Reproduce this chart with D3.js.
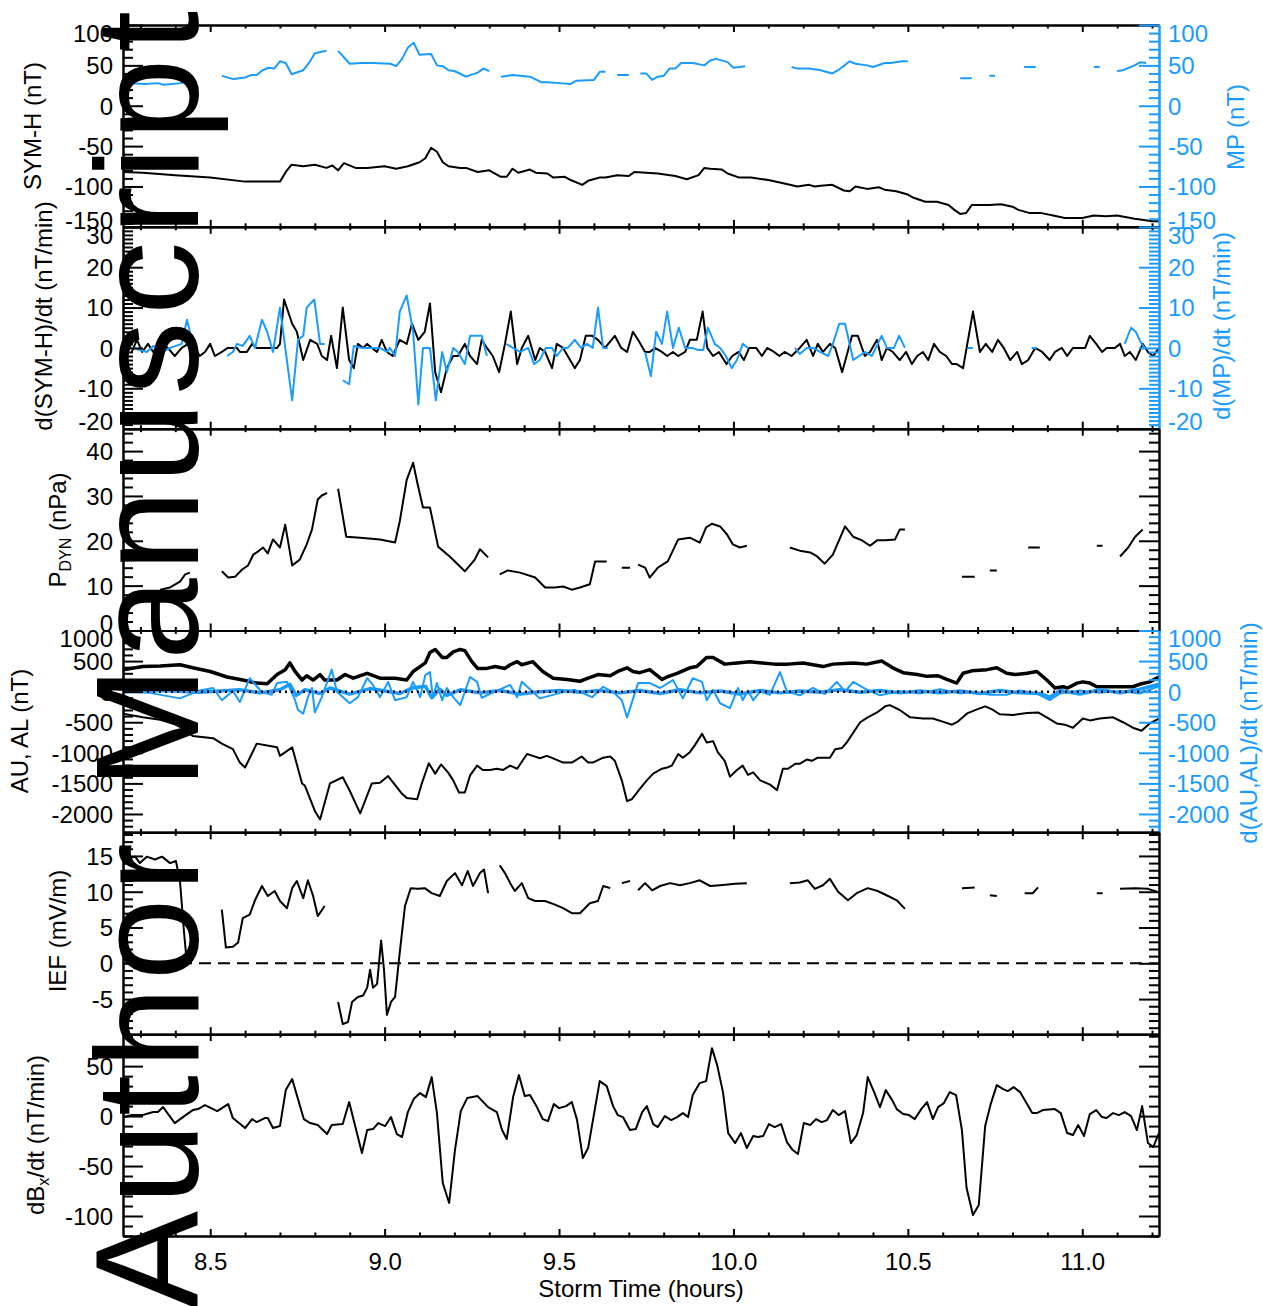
<!DOCTYPE html>
<html>
<head>
<meta charset="utf-8">
<script src="https://cdn.jsdelivr.net/npm/d3@7"></script>
<style>
body { margin: 0; background: #fff; }
svg { display: block; }
text { font-family: "Liberation Sans", Arial, Helvetica, sans-serif; }
</style>
</head>
<body>
<svg id="chart" width="1263" height="1306"></svg>
<script>
// all series: [storm time in minutes, value], null = data gap
var symH = [[495,-82],[498.4,-83],[504,-86],[510,-89],[516,-94],[522,-94],[523,-82],[524,-73],[526,-75],[528,-73],[530,-77],[531,-74],[532,-80],[533,-71],[535,-77],[537,-77],[540,-75],[542,-78],[544,-75],[546,-70],[547,-65],[548,-52],[549,-57],[550,-70],[551,-75],[553,-77],[554,-77],[556,-82],[558,-80],[560,-88],[561,-88],[562,-78],[563,-83],[565,-79],[566,-83],[568,-84],[569,-89],[571,-88],[572,-92],[574,-98],[575,-93],[577,-89],[578,-89],[580,-86],[582,-87],[583,-82],[585,-83],[587,-84],[590,-87],[592,-91],[594,-86],[595,-77],[596,-78],[598,-79],[599,-84],[601,-89],[603,-89],[606,-92],[608,-95],[611,-100],[613,-98],[614,-100],[615,-99],[617,-98],[619,-105],[620,-106],[621,-100],[623,-103],[625,-101],[626,-104],[628,-106],[630,-110],[631,-114],[633,-119],[635,-119],[637,-123],[638,-129],[639,-134],[640,-133],[641,-123],[643,-123],[644,-123],[646,-122],[648,-125],[649,-129],[651,-133],[653,-133],[655,-136],[657,-139],[660,-139],[662,-136],[664,-137],[666,-136],[669,-140],[670,-141],[672,-143],[673.2,-143]];

var mp = [[496,28],[499,27],[501,28],[502,26],[505,28],[506,34],[507,37],null,
  [512,37],[514,33],[516,35],[517,38],[518,38],[519,44],[520,47],[521,46],[522,55],[523,53],[524,39],[526,44],[527,53],[528,65],[530,68],null,
  [532,68],[534,52],[536,53],[538,53],[541,52],[542,49],[543,58],[544,72],[545,78],[546,63],[548,64],[549,50],[550,49],[551,44],[552,43],[554,36],[556,41],[557,46],[558,43],null,
  [560,36],[562,38],[565,36],[567,29],[568,29],[570,28],[572,27],[573,31],[576,32],[577,42],[578,42],null,
  [580,38],[582,38],null,
  [584,40],[585,40],[586,32],[587,36],[588,37],[589,46],[590,46],[591,53],[593,53],[595,50],[596,56],[597,58],[599,54],[600,47],[602,49],null,
  [610,48],[611,46],[613,46],[615,44],[617,40],[618,44],[620,55],[621,52],[623,50],[624,48],[626,53],[627,53],[629,55],[630,55],null,
  [639,34],[641,34],null,[644,37],[645,37],null,[650,48],[652,48],null,[662,48],[663,48],null,
  [666,43],[667,44],[669,50],[670,54],[671,53]];

var dSymH = [[496.5,-1],[497.4,2],[498.3,-1],[499.3,1],[500.2,-1],[501.4,1],[502.7,0],[503.9,-2],[505.1,0],[506.2,1],[507.4,0],[508.2,-2],[509.1,-1],[510,1],[510.8,-2],[512,-1],[513,0],[514.6,0],[515.1,-1],[516.3,-1],[517.2,1],[518,0],[519.1,0],[520.3,0],[521.5,0],[522,1],[522.7,12],[524.1,6],[524.9,4],[526,-3],[527.2,2],[528.4,1],[529.2,-2],[530.1,-3],[530.8,3],[531.8,-5],[532.8,10],[533.9,-3],[534.7,-5],[535.4,1],[536.3,0],[537,1],[537.8,0],[538.7,-1],[539.5,2],[540.4,-1],[541.4,-2],
  [542.6,2],[543.8,1],[544.7,6],[545.8,2],[546.9,4],[547.8,11],[548.7,-6],[549.7,-11],[550.7,-5],[551.8,-2],[552.6,-2],[553.8,1],[554.7,-2],[555.9,-4],[556.7,2],[557.6,0],[558.6,-2],[559.7,-6],[560.7,1],[561.7,9],[562.8,-4],[563.6,0],[564.7,3],[565.9,-3],[566.7,0],[567.6,-1],[568.8,-5],[569.6,1],[570.7,0],[571.5,-2],[572.7,-5],[573.6,-3],[574.6,3],[575.7,3],[576.7,2],[577.9,0],[579.6,3],[580.7,0],[581.7,-1],[582.7,4],[583.6,2],[584.8,-1],[585.6,-1],[586.5,0],[587.7,-1],[588.6,-2],[589.6,-1],[590.5,-2],[591.7,-1],[592.5,2],[593.7,2],[594.7,9],[595.5,0],[596.5,-2],[597.5,-1],[598.8,-4],[599.8,-2],[600.9,-1],[601.8,-3],[602.7,0],[603.9,0],[604.9,-2],[605.8,0],[607,-1],[607.9,-2],[608.8,-1],[610,-2],
  [611.4,0],[612.6,2],[613.7,-2],[614.5,1],[615.4,-1],[616.6,1],[617.5,0],[618.7,-6],[620.4,3],[621.4,3],[622.6,-2],[623.5,-1],[624.7,2],[625.5,-3],[626.4,0],[627.4,-1],[628.6,-3],[629.7,-1],[630.7,-4],[631.6,-2],[632.6,-1],[633.5,-3],[634.5,1],[635.5,-1],[636.6,-2],[637.6,-4],[638.4,-4],[639.5,-5],[641.2,9],[642.4,-1],[643.4,1],[644.5,-1],[645.5,2],[646.5,0],[647.6,-3],[648.8,-1],[649.6,-4],[650.7,-3],[651.9,0],[653.1,-1],[654.4,-3],[655.3,-1],[656.5,0],[657.4,-2],[658.4,0],[660.5,0],[661.3,3],[662.4,1],[663.4,-1],[664.2,0],[665.6,0],[666.5,1],[667.3,-2],[668.2,-1],[669.2,-3],[670.4,1],[671.3,-1],[672.2,-2],[673.2,0]];

var dMp = [[496.7,0],[499.1,-1],[500.2,0.5],[501,0],[501.9,-1],[503.1,0],[505.1,1],[506,7],[507,1],null,
  [512.9,-2],[513.9,-1],[514.6,1],[515.6,0.5],[516.8,3],[517.7,0],[518.9,7],[519.8,4],[520.8,-1],[522,10],[524.1,-13],[525.1,2],[526,3],[526.6,10],[527.9,12],[528.9,1],[529.7,1],null,
  [532.8,-8],[533.9,-9],[534.7,0.5],[536.1,0],[537.8,0],[539.2,0],[540.4,-1],[540.9,0],[541.8,-2],[542.6,9],[543.8,13],[544.9,4],[545.8,-14],[546.6,0],[547.8,0],[548.8,-13],[549.9,-1],[550.7,-6],[551.8,0],[552.6,-1],[553.8,-4],[554.7,3],[555.5,3],[556.7,3],[557.6,-2],null,
  [560.9,1],[562.1,0],[563.3,-1],[564.7,0],[565.7,-4],[566.7,-3],[567.7,0],[568.8,0],[569.6,-2],[570.7,0],[571.5,0],[572.7,2],[573.8,0],[574.8,1],[575.8,0],[576.7,10],[577.6,0],[578.4,0],null,
  [584.8,-1],[585.8,-7],[586.7,4],[587.7,1],[588.6,9],[589.6,0],[590.6,5],[591.7,0],[592.9,0],[593.9,-0.5],[594.8,-0.5],[595.6,5],[596.8,1],[597.7,0],[598.7,-2],[599.7,-5],[600.6,-3],[601.6,1],[602.5,0],null,
  [610.6,0],[611.4,-1.5],[612.6,0],[613.7,0],[614.9,-1],[616.3,-2],[617.1,1],[618.2,6],[619.2,6],[620.6,-3],[621.6,-2],[622.6,-1],[623.8,-2],[625.5,3],[626.4,0],[627.6,0],[628.5,3],[629.5,0],null,
  [640.3,0],[641.2,0],null,[651.3,0],[652.2,0],null,
  [667.3,1],[668.4,5],[669.2,4],[670.2,1],[670.8,0]];

var pDyn = [[501.4,9.1],[503.1,9.6],[504.8,10.9],[505.7,12.5],[506.5,12.9],null,
  [512,13.2],[513.1,11.8],[514.3,12],[515.5,13.6],[516.5,14.5],[517.4,16.9],[518.2,17.6],[519.1,18.5],[519.9,17.2],[520.8,20.3],[522,18.5],[522.9,23.6],[524.1,14.5],[525.4,15.8],[526.6,19.2],[527.5,22.5],[528.5,29.2],[529.2,30.1],[530.1,30.7],null,
  [532,31.6],[533.4,20.9],[535.8,20.7],[539.2,20.3],[541.8,19.6],[542.6,24.3],[543.8,33.6],[544.9,37.4],[545.7,32.5],[546.6,27.4],[547.8,27.4],[549.2,18.7],[551.2,16.5],[553.8,13.2],[555.5,15.8],[556.4,18.1],[557.8,16.3],null,
  [559.8,12.5],[561.2,13.4],[563.3,12.9],[565.9,11.8],[567.6,9.6],[569.3,9.6],[570.7,9.8],[572.2,9.1],[573.6,9.6],[575.3,10.3],[576.2,15.4],[578.2,15.4],null,
  [580.8,14],[582.2,14],null,
  [583.6,14.7],[584.8,14],[585.6,11.8],[587,14],[588.7,15.4],[590.5,20.3],[592.5,20.7],[594.2,19.6],[595.3,23],[596.3,23.8],[597.7,23.2],[598.9,21.4],[599.9,19.2],[601.1,18.5],[602.3,18.9],null,
  [609.7,18.5],[611.4,17.8],[613.2,17.4],[614.4,16.5],[615.7,14.9],[617.1,16.9],[619.2,23.2],[620.6,20.9],[622.1,20.1],[623.5,18.9],[624.7,20.1],[626.1,20.1],[627.8,20.3],[628.6,22.5],[629.5,22.5],null,
  [639.3,12],[641.5,12],null,[644.1,13.4],[645.3,13.4],null,[650.7,18.5],[652.7,18.5],null,[662.5,18.9],[663.5,18.9],null,
  [666.5,16.5],[667.9,18.5],[669.1,20.9],[670.4,22.5]];

var au = [[495,356],[498.4,410],[501.4,420],[504.8,440],[507,390],[510,330],[512.9,240],[515.6,190],[518,140],[519.8,130],[521.5,280],[522.9,360],[523.7,470],[524.6,330],[525.8,190],[526.6,260],[527.7,190],[528.9,280],[529.7,190],[531.8,190],[533.2,280],[534.6,220],[537,300],[539.2,220],[541.8,220],[543.8,190],[544.9,330],[546.1,410],[547,470],[547.8,640],[548.7,690],[549.9,560],[550.7,560],[551.8,650],[553,690],[553.8,670],[555,490],[556,380],[557.6,380],[559,410],[560.7,380],[561.6,440],[562.8,490],[563.6,440],[565.5,490],[567.2,330],[569,220],[571.4,200],[573.6,170],[575,220],[576.7,280],[578.8,260],[580.1,330],[581.7,390],[582.7,330],[583.9,310],[585.6,360],[587.7,200],[588.6,240],[590.3,300],[592.5,390],[593.7,410],[595.4,560],[596.5,560],[598.5,450],[600.6,470],[602.8,490],[604.9,470],[607.1,450],[609.4,450],[612,470],[613.7,440],[615.4,410],[617.1,450],[620.6,470],[622.9,450],[625.5,500],[627.4,390],[629.2,310],[631.6,280],[633.3,250],[635.2,260],[636.7,200],[638.4,140],[639.5,300],[641,340],[643.6,360],[645.3,390],[647,300],[648.4,280],[650.5,300],[652.2,330],[653.9,190],[655.3,60],[656.7,80],[657.5,60],[659.1,140],[660.1,160],[661.3,140],[662.5,80],[665.3,80],[668.7,80],[670.2,130],[671.6,160],[673.2,240]];

var al = [[495,-360],[498.4,-420],[501.4,-460],[503.6,-520],[505.1,-590],[507,-725],[510.5,-760],[512,-850],[513.9,-940],[515.1,-1160],[516,-1240],[518,-850],[519.8,-880],[521.5,-910],[522,-1050],[524.1,-910],[525.8,-1500],[526.3,-1540],[528,-1950],[528.9,-2090],[530.6,-1500],[532.8,-1400],[534,-1620],[535.8,-1990],[537.8,-1500],[539.2,-1490],[540.6,-1380],[543,-1670],[543.8,-1740],[545.6,-1760],[546.4,-1500],[547.6,-1170],[548.7,-1340],[549.7,-1190],[550.9,-1320],[551.8,-1450],[552.8,-1650],[553.8,-1650],[554.7,-1370],[555.9,-1210],[556.9,-1280],[558.1,-1280],[559.3,-1260],[560.4,-1280],[561.6,-1210],[562.8,-1260],[564.5,-1020],[565.5,-1050],[566.7,-1090],[567.9,-1050],[569,-1090],[570.7,-1160],[572.2,-1160],[573.9,-1060],[575,-1160],[575.8,-1160],[577.6,-1080],[578.8,-1060],[579.6,-1130],[580.8,-1450],[581.7,-1790],[582.5,-1760],[583.9,-1590],[585.1,-1450],[586.2,-1340],[587.7,-1260],[588.6,-1240],[589.4,-1210],[590.5,-1020],[591.3,-1080],[592.5,-990],[593.4,-870],[594.6,-690],[595.4,-830],[596.5,-810],[597.3,-990],[598.5,-1130],[599.4,-1390],[600.6,-1280],[601.6,-1210],[602.5,-1360],[603.4,-1320],[604.6,-1450],[606.3,-1520],[607.5,-1610],[608.5,-1260],[609.4,-1260],[610.6,-1180],[611.4,-1180],[612.6,-1110],[613.5,-1130],[614.5,-1080],[615.7,-1080],[616.6,-1080],[617.5,-940],[618.7,-920],[619.5,-830],[621.8,-500],[623.1,-420],[624.7,-340],[626.1,-240],[626.9,-220],[628.6,-300],[630.4,-420],[632.6,-440],[634.3,-440],[636,-490],[637.6,-540],[638.6,-490],[640.3,-350],[641.9,-290],[643.3,-240],[644.5,-290],[645.8,-370],[648.1,-380],[650.5,-350],[652.4,-340],[653.9,-420],[655.6,-520],[657,-540],[658.4,-590],[660.1,-440],[661.3,-470],[663,-440],[665.3,-420],[667,-500],[668.7,-590],[670.2,-640],[671.6,-520],[673.2,-440]];

var dAu = [[495,0],[501.4,20],[508.2,-10],[515.1,30],[518.6,-20],[522,30],[523.7,120],[524.8,-60],[526.3,30],[528.9,-30],[530.6,60],[534,-40],[537.5,50],[542.6,-30],[544.7,60],[547,90],[548.1,-100],[549.5,40],[550.7,-60],[553,30],[556.4,-20],[559.8,20],[563.3,-40],[566.7,0],[570.2,20],[573.6,-10],[577,20],[580.5,-20],[583.9,20],[587.4,-30],[590.8,30],[594.2,-20],[597.7,10],[601.1,-40],[604.6,20],[608,-20],[611.4,10],[614.9,-10],[618.3,30],[621.8,-10],[625.2,20],[628.6,-20],[632.1,10],[635.5,-20],[639,10],[642.4,-30],[645.8,20],[649.3,-20],[652.7,-30],[654.4,-90],[656.2,20],[659.6,-40],[663,30],[666.5,-20],[669.9,40],[673.2,120]];

var dAl = [[495,0],[499.6,-20],[504.8,-110],[508.2,20],[510.5,60],[512,-140],[513.9,10],[515.1,-170],[516.8,220],[518.9,-10],[520.6,-50],[521.5,140],[523.2,160],[524.6,-140],[525.1,-300],[526,-360],[526.8,-90],[527.5,60],[528,-340],[529.2,-90],[530.9,360],[531.8,0],[534,-190],[535.4,-90],[537,220],[538,110],[539.2,-90],[540.6,160],[541.8,-140],[543.8,-90],[544.9,160],[546.1,-90],[547,270],[547.8,320],[548.3,-100],[549,140],[549.9,-140],[550.7,60],[551.8,-90],[553,-220],[554.7,240],[555.9,160],[556.7,-100],[559,0],[561.6,110],[562.8,-90],[563.6,160],[565,40],[566.7,-110],[570.2,-20],[572.7,30],[575.7,-90],[577.6,80],[579.6,-30],[580.8,-140],[581.7,-420],[583.6,140],[585.6,140],[587.4,60],[589.6,190],[591.3,-110],[593,220],[594.6,160],[595.4,-140],[596.5,30],[597.7,-190],[599.4,-270],[600.8,60],[601.6,-140],[602.5,20],[603.4,-140],[604.6,0],[606.3,-50],[608,320],[609.2,0],[611.4,-60],[613.7,60],[615.7,-40],[617.8,160],[619.2,0],[620.6,160],[623,30],[625.2,-60],[628.6,10],[632.1,-30],[635.5,40],[639,-30],[641.5,0],[644.1,-50],[647,-50],[649.3,20],[651.9,-20],[654.4,-140],[656.2,-30],[659.6,20],[663,-20],[666.5,10],[669.9,-30],[673.2,90]];

var ief = [[495,14.3],[495.9,14.7],[497.1,14.9],[497.9,14],[499.1,14.9],[500.5,14.5],[501.7,14.9],[503.1,14],[504.1,14.3],[504.8,11.5],[505.5,4.3],[506,-0.1],null,
  [512,7.5],[512.7,2.2],[513.9,2.3],[514.8,2.9],[515.6,6.3],[516.8,6.8],[517.7,8.8],[518.9,10.8],[519.9,9.4],[521.1,10.1],[522,8.7],[523.2,7.7],[524.1,10.5],[524.9,11.5],[526,9.1],[526.8,11.6],[527.7,9.4],[528.5,6.6],[529.7,8],null,
  [532,-5.4],[532.8,-8.5],[533.7,-8.2],[534.4,-5.4],[535.4,-4.7],[536.3,-4.5],[537,-3.4],[537.5,-0.9],[538,-3.4],[538.7,-2.9],[539.4,3.2],[539.9,-1],[540.4,-7.2],[541.1,-5.4],[541.8,-4.7],[542.6,1.5],[543.5,8],[544.5,10.5],[545.7,10.4],[546.9,10.5],[548.1,9.8],[549.5,9.4],[550.7,11.5],[552.1,12.6],[553.3,10.9],[554.3,12.9],[555.2,10.8],[556.4,12.6],[557.1,13.1],[557.8,9.8],null,
  [559.8,13.7],[560.7,12.6],[561.6,11.2],[562.4,10.1],[563.6,11.2],[564.7,9.1],[565.9,8.7],[567.6,8.7],[569.3,8.2],[570.7,7.7],[572.2,7],[573.6,7],[575.3,8.4],[576.7,8.7],[577.6,10.8],[578.8,10.5],null,
  [580.8,11.2],[582.2,11.5],null,
  [583.6,10.2],[584.8,11.2],[586,10.2],[587.4,10.8],[589.1,11.2],[590.8,10.9],[592.5,11.2],[594.2,11.6],[596,10.8],[597.7,10.9],[600.3,11.1],[602.3,11.2],null,
  [609.7,11.2],[611.4,11.3],[612.8,11.6],[614,10.4],[615.4,10.9],[616.6,11.8],[618,10],[619.7,8.8],[621.2,9.8],[623.1,10.5],[624.8,10.1],[626.6,9.4],[628.1,8.8],[629.5,7.6],null,
  [639.3,10.5],[641.5,10.6],null,[644.1,9.5],[645.3,9.4],null,[650.1,9.8],[651.5,9.8],[652.4,10.6],null,[662.5,9.8],[663.5,9.8],null,
  [666.5,10.4],[669.1,10.5],[671.3,10.4],[672.9,10]];

var dBx = [[495.3,-1],[496.5,1],[498.4,1],[500.2,4],[501,4],[501.9,9],[503.9,-7],[505.3,-1],[507,6],[507.9,7],[509.1,11],[511.2,5],[513.1,12],[513.9,-2],[516,-12],[517.2,-3],[518,-6],[519.4,-2],[519.9,-2],[520.8,-12],[522,-10],[523,26],[524.1,37],[526.1,-3],[527.2,-7],[528.5,-9],[530.1,-18],[530.9,-9],[532.8,-8],[533.9,14],[536.1,-37],[537,-14],[538,-13],[538.9,-7],[540.1,-10],[541.1,-1],[542.1,-18],[543,-21],[544,4],[545,17],[546.1,23],[547.1,19],[548.1,39],[549,3],[550,-67],[551.1,-87],[552.1,-34],[553.1,5],[554.2,18],[556,20],[557.8,9],[559.3,4],[560.2,-14],[561,-23],[562.1,19],[563.1,41],[564.1,20],[565,21],[566.2,9],[567.2,-3],[568.1,-5],[569.1,12],[570,8],[571.2,10],[572.2,14],[573.1,-4],[574.1,-42],[575,-32],[577,35],[578.2,30],[579.3,10],[580.1,1],[581,-1],[582.2,-14],[583.2,-13],[584.3,4],[585.1,10],[586.2,-8],[587,-11],[588.2,0],[589.3,-4],[590.3,-1],[591.3,3],[592.2,-1],[593,21],[594.2,33],[595.3,35],[596.3,68],[597.2,51],[598.2,24],[599.1,-17],[600.3,-27],[601.3,-17],[602.3,-32],[603.4,-20],[604.2,-21],[605.1,-20],[606.1,-8],[607.1,-11],[608.2,-8],[609.2,-26],[610.2,-34],[611.1,-38],[612.1,-7],[613.2,-9],[614.2,-3],[615.2,-6],[616.1,-4],[617.1,6],[618.1,1],[619.2,5],[620.2,-27],[621.2,-19],[622.3,3],[623.1,39],[624.2,24],[625.2,9],[626.2,26],[627.3,16],[628.1,7],[629.2,2],[630.2,1],[631.2,-3],[632.3,7],[633.3,14],[634.3,-3],[635.2,9],[636.2,13],[637.2,24],[638.3,21],[639.3,-14],[640.1,-72],[641.2,-99],[642.2,-89],[643.3,-10],[644.3,13],[645.3,31],[646.4,27],[647.2,25],[648.2,29],[649.3,24],[650.3,14],[651.4,3],[652.2,3],[653.2,6],[655.3,7],[656.3,3],[657.4,-17],[658.4,-19],[659.3,-9],[660.3,-20],[661.3,2],[662.4,6],[663.4,-1],[664.2,-2],[665.3,3],[666.3,1],[667.3,4],[668.4,0],[669.4,-14],[670.3,10],[671.3,-27],[672.2,-31],[673.2,-17]];

// axis ticks (hours)
var xMajorTicks = [8.5, 9.0, 9.5, 10.0, 10.5, 11.0];
var xMinorTicks = [8.3, 8.4, 8.6, 8.7, 8.8, 8.9, 9.1, 9.2, 9.3, 9.4, 9.6, 9.7, 9.8, 9.9, 10.1, 10.2, 10.3, 10.4, 10.6, 10.7, 10.8, 10.9, 11.1, 11.2];
var xTickLabels = ["8.5", "9.0", "9.5", "10.0", "10.5", "11.0"];

var blue = "#1a9bff";
var svg = d3.select("#chart");
var left = 123, right = 1159, top0 = 25, ph = 201.83;

var x = d3.scaleLinear().domain([8.25, 11.22]).range([left, right]);

var panels = [
  { dom: [-150, 100], major: 50, minor: 10, rc: blue,
    lt: ["SYM-H (nT)"], ltx: 33, lty: 126, rt: "MP (nT)", rtx: 1236, rty: 127,
    lines: [{ d: mp, c: blue, w: 2 }, { d: symH, c: "#000", w: 2 }] },
  { dom: [-20, 30], major: 10, minor: 1, rc: blue,
    lt: ["d(SYM-H)/dt (nT/min)"], ltx: 44, lty: 316, rt: "d(MP)/dt (nT/min)", rtx: 1222, rty: 326,
    lines: [{ d: dSymH, c: "#000", w: 2 }, { d: dMp, c: blue, w: 2 }] },
  { dom: [0, 45], major: 10, minor: 2, rc: "#000",
    lt: ["P", "DYN", " (nPa)"], ltx: 58, lty: 530,
    lines: [{ d: pDyn, c: "#000", w: 2 }] },
  { dom: [-2300, 1000], major: 500, minor: 100, rc: blue,
    lt: ["AU, AL (nT)"], ltx: 20, lty: 731, rt: "d(AU,AL)/dt  (nT/min)", rtx: 1249, rty: 733,
    zero: "2,4",
    lines: [{ d: au, c: "#000", w: 3.5 }, { d: al, c: "#000", w: 2 }, { d: dAl, c: blue, w: 2 }, { d: dAu, c: blue, w: 3.5 }] },
  { dom: [-9.9, 18.3], major: 5, minor: 1, rc: "#000",
    lt: ["IEF (mV/m)"], ltx: 58, lty: 931, zero: "12,7",
    lines: [{ d: ief, c: "#000", w: 2 }] },
  { dom: [-120, 82], major: 50, minor: 10, rc: "#000",
    lt: ["dB", "x", "/dt (nT/min)"], ltx: 36, lty: 1135,
    lines: [{ d: dBx, c: "#000", w: 2 }] }
];

function styleAxis(g, color) {
  g.attr("font-family", null).attr("font-size", null);
  g.selectAll("path, line").attr("stroke", color).attr("stroke-width", 2);
  g.selectAll("text").attr("fill", color).style("font-size", "24px");
}

function ticksFor(dom, step) {
  var out = [];
  for (var v = Math.ceil(dom[0] / step) * step; v <= dom[1] + 1e-9; v += step) out.push(Math.round(v * 1000) / 1000);
  return out;
}

panels.forEach(function(p, i) {
  var y0 = top0 + i * ph, y1 = y0 + ph;
  var y = d3.scaleLinear().domain(p.dom).range([y1, y0]);
  var g = svg.append("g");

  g.append("clipPath").attr("id", "clip" + i)
    .append("rect").attr("x", left).attr("y", y0).attr("width", right - left).attr("height", ph);

  var line = d3.line()
    .defined(function(d) { return d !== null; })
    .x(function(d) { return x(d[0] / 60); })
    .y(function(d) { return y(d[1]); });

  var plot = g.append("g").attr("clip-path", "url(#clip" + i + ")");
  if (p.zero && i === 4) {
    plot.append("line").attr("x1", left).attr("x2", right).attr("y1", y(0)).attr("y2", y(0))
      .attr("stroke", "#000").attr("stroke-width", 2).attr("stroke-dasharray", p.zero);
  }
  p.lines.forEach(function(s) {
    plot.append("path").datum(s.d).attr("d", line)
      .attr("fill", "none").attr("stroke", s.c).attr("stroke-width", s.w)
      .attr("stroke-linejoin", "round");
  });
  if (p.zero && i === 3) {
    plot.append("line").attr("x1", left).attr("x2", right).attr("y1", y(0)).attr("y2", y(0))
      .attr("stroke", "#000").attr("stroke-width", 2.5).attr("stroke-dasharray", p.zero);
  }

  var majors = ticksFor(p.dom, p.major);
  var minors = ticksFor(p.dom, p.minor).filter(function(v) { return majors.indexOf(v) < 0; });

  // x ticks top and bottom
  var gt = g.append("g").attr("transform", "translate(0," + y0 + ")");
  gt.call(d3.axisTop(x).tickValues(xMinorTicks).tickSize(-3.5).tickSizeOuter(0).tickFormat(""));
  styleAxis(gt, "#000");
  var gt2 = g.append("g").attr("transform", "translate(0," + y0 + ")");
  gt2.call(d3.axisTop(x).tickValues(xMajorTicks).tickSize(-7).tickSizeOuter(0).tickFormat(""));
  styleAxis(gt2, "#000");

  var gb = g.append("g").attr("transform", "translate(0," + y1 + ")");
  gb.call(d3.axisBottom(x).tickValues(xMinorTicks).tickSize(-3.5).tickSizeOuter(0).tickFormat(""));
  styleAxis(gb, "#000");
  var gb2 = g.append("g").attr("transform", "translate(0," + y1 + ")");
  gb2.call(d3.axisBottom(x).tickValues(xMajorTicks).tickSize(-7).tickSizeOuter(0).tickPadding(17)
    .tickFormat(i === 5 ? function(d, k) { return xTickLabels[k]; } : ""));
  styleAxis(gb2, "#000");

  function edgeDy(d) {
    if (y(d) - y0 < 3) return "0.68em";
    if (y1 - y(d) < 3) return "0.05em";
    return "0.35em";
  }

  // left axis
  var gl = g.append("g").attr("transform", "translate(" + left + ",0)");
  gl.call(d3.axisLeft(y).tickValues(minors).tickSize(-10).tickSizeOuter(0).tickFormat(""));
  styleAxis(gl, "#000");
  var gl2 = g.append("g").attr("transform", "translate(" + left + ",0)");
  gl2.call(d3.axisLeft(y).tickValues(majors).tickSize(-20).tickSizeOuter(0).tickPadding(10)
    .tickFormat(function(d) { return String(d); }));
  styleAxis(gl2, "#000");
  gl2.selectAll(".tick text").attr("dy", edgeDy);

  // right axis
  var gr = g.append("g").attr("transform", "translate(" + right + ",0)");
  gr.call(d3.axisRight(y).tickValues(minors).tickSize(-10).tickSizeOuter(0).tickFormat(""));
  styleAxis(gr, p.rc);
  var gr2 = g.append("g").attr("transform", "translate(" + right + ",0)");
  gr2.call(d3.axisRight(y).tickValues(majors).tickSize(-20).tickSizeOuter(0).tickPadding(9)
    .tickFormat(p.rt ? function(d) { return String(d); } : ""));
  styleAxis(gr2, p.rc);
  gr2.selectAll(".tick text").attr("dy", edgeDy);

  // titles
  var tl = g.append("text")
    .attr("transform", "translate(" + p.ltx + "," + p.lty + ") rotate(-90)")
    .attr("text-anchor", "middle").attr("dy", "0.35em")
    .style("font-size", "24px").attr("fill", "#000");
  if (p.lt.length === 1) {
    tl.text(p.lt[0]);
  } else {
    tl.append("tspan").text(p.lt[0]);
    tl.append("tspan").text(p.lt[1]).style("font-size", "16px").attr("dy", "0.3em");
    tl.append("tspan").text(p.lt[2]).attr("dy", "-0.2em");
  }
  if (p.rt) {
    g.append("text")
      .attr("transform", "translate(" + p.rtx + "," + p.rty + ") rotate(-90)")
      .attr("text-anchor", "middle").attr("dy", "0.35em")
      .style("font-size", "24px").attr("fill", blue)
      .text(p.rt);
  }
});

svg.append("text")
  .attr("x", (left + right) / 2).attr("y", 1297)
  .attr("text-anchor", "middle").style("font-size", "24px")
  .text("Storm Time (hours)");

// watermark
svg.append("text")
  .attr("transform", "translate(198,1309) rotate(-90)")
  .attr("textLength", 1298).attr("lengthAdjust", "spacing")
  .style("font-size", "147px").attr("fill", "#000")
  .text("Author Manuscript");
</script>
</body>
</html>
